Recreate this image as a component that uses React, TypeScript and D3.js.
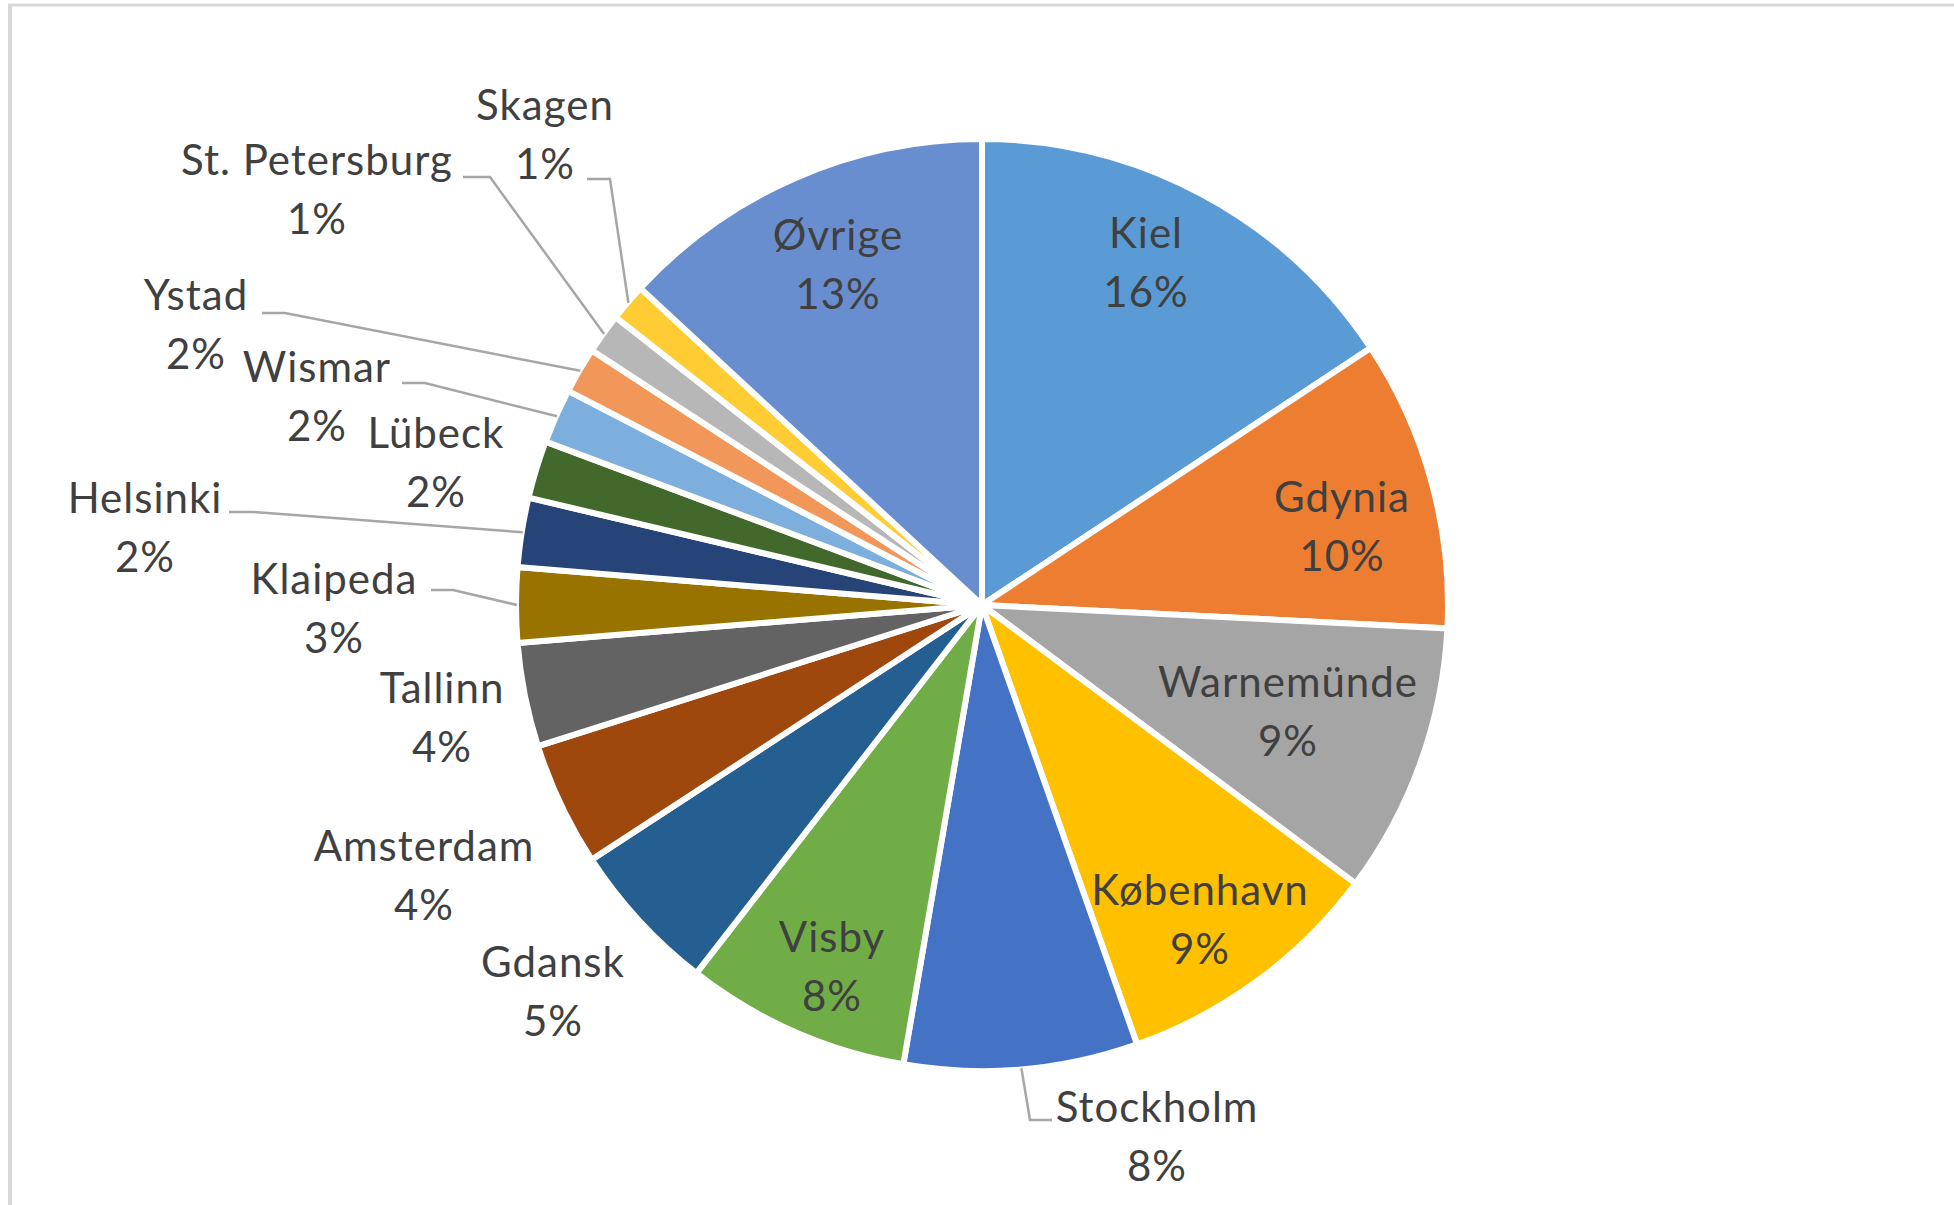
import React from "react";
import * as d3 from "d3";

const categories = ["Kiel", "Gdynia", "Warnemünde", "København", "Stockholm", "Visby", "Gdansk", "Amsterdam", "Tallinn", "Klaipeda", "Helsinki", "Lübeck", "Wismar", "Ystad", "St. Petersburg", "Skagen", "Øvrige"];
const values = [15.7, 10.1, 9.4, 9.4, 8.1, 7.8, 5.3, 4.3, 3.6, 2.6, 2.4, 2.0, 1.9, 1.6, 1.4, 1.3, 13.1];
const colors = ["#5B9BD5", "#ED7D31", "#A5A5A5", "#FFC000", "#4472C4", "#70AD47", "#255E91", "#9E480E", "#636363", "#997300", "#264478", "#43682B", "#7CAFDD", "#F1975A", "#B7B7B7", "#FFCD33", "#698ED0"];

// label layout: center x, first-line baseline y, optional leader (start, knee)
const labelLayout: Record<string, { x: number; y: number; leader?: [number, number, number, number] }> = {
  "Kiel": { x: 1146, y: 248 },
  "Gdynia": { x: 1342, y: 512 },
  "Warnemünde": { x: 1288, y: 697 },
  "København": { x: 1200, y: 905 },
  "Stockholm": { x: 1157, y: 1122, leader: [1052, 1120, 1030, 1120] },
  "Visby": { x: 832, y: 952 },
  "Gdansk": { x: 553, y: 977 },
  "Amsterdam": { x: 424, y: 861 },
  "Tallinn": { x: 442, y: 703 },
  "Klaipeda": { x: 334, y: 594, leader: [431, 590, 453, 590] },
  "Helsinki": { x: 145, y: 513, leader: [229, 512, 253, 512] },
  "Lübeck": { x: 436, y: 448 },
  "Wismar": { x: 317, y: 382, leader: [402, 383, 425, 383] },
  "Ystad": { x: 196, y: 310, leader: [262, 313, 285, 313] },
  "St. Petersburg": { x: 317, y: 175, leader: [463, 177, 490, 177] },
  "Skagen": { x: 545, y: 120, leader: [587, 179, 610, 179] },
  "Øvrige": { x: 838, y: 250 },
};

const W = 1954;
const H = 1205;
const CX = 982;
const CY = 605;
const R = 466;
const LINE = 59;

export default function App() {
  const total = d3.sum(values);
  const data = categories.map((c, i) => ({ name: c, value: values[i], color: colors[i] }));
  const pie = d3.pie<any>().sort(null).value((d: any) => d.value).startAngle(0).endAngle(2 * Math.PI);
  const arcs = pie(data);
  const arc = d3.arc<any>().innerRadius(0).outerRadius(R);
  const edge = (a: number, r: number) => [CX + r * Math.sin(a), CY - r * Math.cos(a)];

  return (
    <svg width={W} height={H} style={{ position: "absolute", left: 0, top: 0, display: "block" }}>
      <rect x={0} y={0} width={W} height={H} fill="#ffffff" />
      <line x1={8} y1={5} x2={W} y2={5} stroke="#d9d9d9" strokeWidth={3} />
      <line x1={10} y1={4} x2={10} y2={H} stroke="#d9d9d9" strokeWidth={4} />
      <g transform={`translate(${CX},${CY})`}>
        {arcs.map((a) => (
          <path key={a.data.name} d={arc(a) as string} fill={a.data.color} stroke="#ffffff" strokeWidth={6} strokeLinejoin="miter" />
        ))}
      </g>
      {arcs.map((a) => {
        const L = labelLayout[a.data.name];
        if (!L || !L.leader) return null;
        const mid = (a.startAngle + a.endAngle) / 2;
        const [ex, ey] = edge(mid, R - 1);
        const [sx, sy, kx, ky] = L.leader;
        return (
          <polyline key={"l" + a.data.name} points={`${sx},${sy} ${kx},${ky} ${ex},${ey}`} fill="none" stroke="#a6a6a6" strokeWidth={2.5} />
        );
      })}
      <g fontFamily="Lato, 'Open Sans', sans-serif" fontSize={42} letterSpacing={1} fill="#404040" textAnchor="middle">
        {arcs.map((a) => {
          const L = labelLayout[a.data.name];
          const pct = Math.round((a.data.value / total) * 100) + "%";
          return (
            <text key={"t" + a.data.name}>
              <tspan x={L.x} y={L.y}>{a.data.name}</tspan>
              <tspan x={L.x} y={L.y + LINE}>{pct}</tspan>
            </text>
          );
        })}
      </g>
    </svg>
  );
}
